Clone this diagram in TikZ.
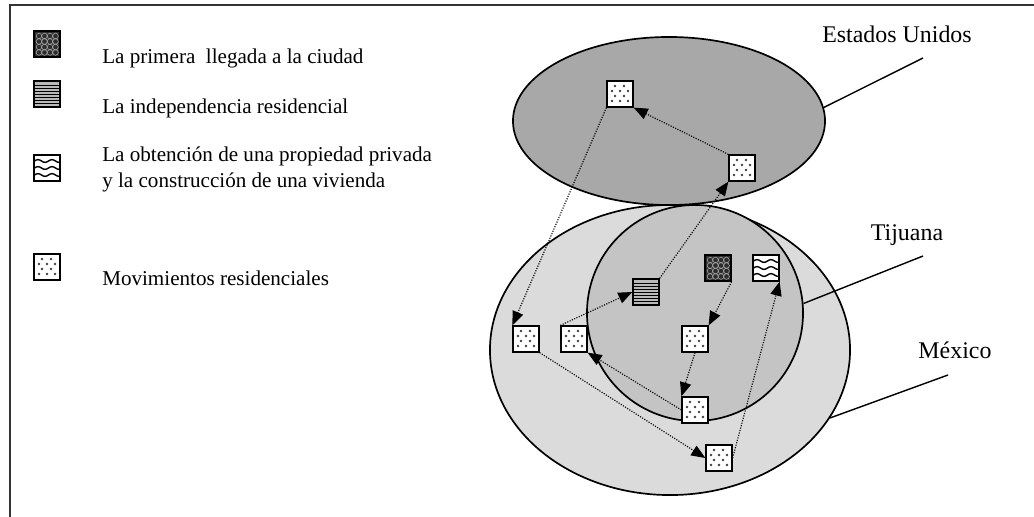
\documentclass[tikz,border=0pt]{standalone}
\usepackage{fontspec}
\setmainfont{Liberation Serif}
\usetikzlibrary{arrows.meta,shapes.geometric}

\definecolor{usagray}{gray}{0.66}
\definecolor{tijgray}{gray}{0.77}
\definecolor{mexgray}{gray}{0.86}

\tikzset{
  sq/.style={draw, line width=0.9pt, minimum size=0.65cm, inner sep=0pt},
  % movimiento residencial
  mov/.style={sq, fill=white, path picture={
    \begin{scope}[shift={(path picture bounding box.center)}]
      \foreach \x/\y in {-5/-8, 4/-8, -8/-3, 0/-3, 8/-3, -5/2, 4/2, -8/7, 0/7, 8/7}
        \fill[black!75] (\x,\y) circle (1pt);
    \end{scope}}},
  % primera llegada
  first/.style={sq, fill=gray!35!black, path picture={
    \begin{scope}[shift={(path picture bounding box.center)}]
      \foreach \x in {-8,-2.5,3,8.5}
        \foreach \y in {-8,-2.5,3,8.5}
          \draw[gray!70, line width=0.4pt] (\x,\y) circle (2pt);
    \end{scope}}},
  % independencia residencial
  indep/.style={sq, fill=gray!55, path picture={
    \begin{scope}[shift={(path picture bounding box.center)}]
      \foreach \y in {-9,-6,...,9}
        \draw[black, line width=0.5pt] (-14,\y) -- (14,\y);
    \end{scope}}},
  % propiedad privada
  prop/.style={sq, fill=white, path picture={
    \begin{scope}[shift={(path picture bounding box.center)}]
      \foreach \y in {-5,2,9}
        \draw[black, line width=1pt, rounded corners=1.5pt]
          (-16,\y) -- (-9,\y-4) -- (-2,\y) -- (5,\y-4) -- (12,\y) -- (19,\y-4);
    \end{scope}}},
  area/.style={draw, line width=1.2pt, inner sep=0pt},
  mv/.style={->, densely dotted, line width=0.8pt},
  leg/.style={anchor=base west, inner sep=0pt, align=left,
    font=\fontsize{15}{17.8}\selectfont},
  lbl/.style={anchor=base, inner sep=0pt, font=\fontsize{17}{20}\selectfont}
}

\begin{document}
\begin{tikzpicture}[x=0.025cm, y=-0.025cm, >={Triangle[length=10pt, width=8pt]}]
    \useasboundingbox (0,0) rectangle (1034,516);
    % frame
    \draw[line width=1.5pt, gray!40!black] (10,5) rectangle (1050,535);

    % Legend
    \node[first] (lfirst) at (47,44) {};
    \node[leg] (tfirst) at (102,63) {La primera\ \ llegada a la ciudad};
    \node[indep] (lindep) at (47,94) {};
    \node[leg] (tindep) at (102,113) {La independencia residencial};
    \node[prop] (lprop) at (47,168) {};
    \node[leg] (tprop) at (102,187) {La obtención de una propiedad privada\\y la construcción de una vivienda};
    \node[mov] (lmov) at (47,267) {};
    \node[leg] (tmov) at (102,285) {Movimientos residenciales};

    % Mexico, Tijuana and Estados Unidos
    \node[area, ellipse, fill=mexgray, minimum width=9cm, minimum height=7.25cm] (mex) at (670,350) {};
    \node[area, circle, fill=tijgray, minimum size=5.4cm] (tij) at (695,313) {};
    \node[area, ellipse, fill=usagray, minimum width=7.8cm, minimum height=4.2cm] (usa) at (669,121) {};

    % labels
    \node[lbl] (tusa) at (897,42) {Estados Unidos};
    \node[lbl] (ttij) at (907,240) {Tijuana};
    \node[lbl] (tmex) at (955,358) {México};
    \coordinate (cusa) at (923,58);
    \coordinate (ctij) at (923,256);
    \coordinate (cmex) at (948,375);
    \draw[line width=1pt] (usa.5) -- (cusa);
    \draw[line width=1pt] (tij.5) -- (ctij);
    \draw[line width=1pt] (mex.-23) -- (cmex);

    % squares
    \node[mov] (usl) at (620,94) {};
    \node[mov] (usr) at (742,168) {};
    \node[first] (arr) at (718,268) {};
    \node[prop] (own) at (766,268) {};
    \node[indep] (ind) at (646,292) {};
    \node[mov] (mid) at (695,339) {};
    \node[mov] (bot) at (695,410) {};
    \node[mov] (sec) at (574,339) {};
    \node[mov] (far) at (526,339) {};
    \node[mov] (low) at (719,458) {};

    % residential path
    \draw[mv] (arr.south east) -- (mid.north east);
    \draw[mv] (mid.south) -- (bot.north west);
    \draw[mv] (bot.west) -- (sec.south east);
    \draw[mv] (sec.north west) -- (ind.west);
    \draw[mv] (ind.north east) -- (usr.south west);
    \draw[mv] (usr.north west) -- (usl.south east);
    \draw[mv] (usl.south west) -- (far.north west);
    \draw[mv] (far.south east) -- (low.west);
    \draw[mv] (low.east) -- (own.south east);
\end{tikzpicture}
\end{document}
